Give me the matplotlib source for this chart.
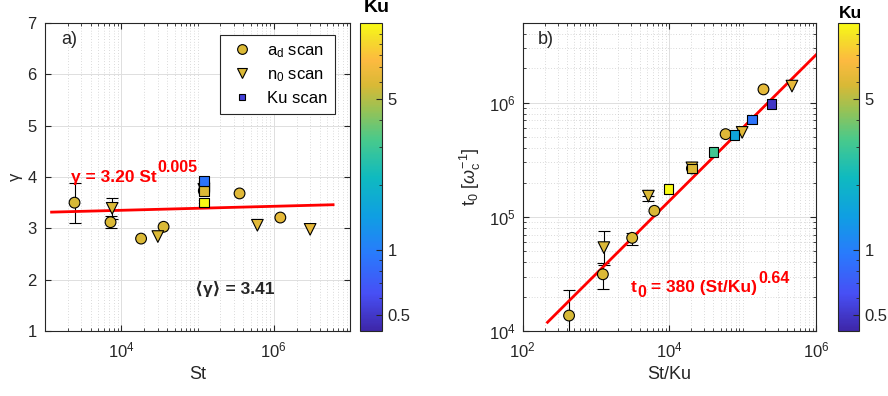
import numpy as np
import matplotlib
matplotlib.use('Agg')
import matplotlib.pyplot as plt
from matplotlib import ticker
from matplotlib.colors import LinearSegmentedColormap, LogNorm
from matplotlib.lines import Line2D

# a_d scan (circles)
ad_St = np.array([2440, 7240, 18200, 35900, 121000, 356000, 1.22e6])
ad_Ku = np.array([5.69, 5.84, 5.85, 5.75, 5.96, 6.08, 6.35])
ad_gamma = np.array([3.50, 3.12, 2.80, 3.03, 3.73, 3.68, 3.21])
ad_gamma_err = np.array([0.39, 0.12, 0, 0, 0, 0, 0])
ad_t0 = np.array([13650, 31400, 65500, 113000, 266000, 531000, 1.31e6])
ad_t0_lo = np.array([9000, 7900, 9000, 0, 0, 0, 0])
ad_t0_hi = np.array([9050, 8100, 6500, 0, 0, 0, 0])

# n_0 scan (triangles)
n0_St = np.array([7600, 30200, 121000, 610000, 3.0e6])
n0_Ku = np.array([5.94, 5.83, 5.96, 6.20, 6.38])
n0_gamma = np.array([3.39, 2.84, 3.76, 3.06, 2.98])
n0_gamma_err = np.array([0.20, 0, 0, 0, 0])
n0_t0 = np.array([53800, 152000, 269000, 550000, 1.4e6])
n0_t0_lo = np.array([15800, 15000, 0, 0, 0])
n0_t0_hi = np.array([21600, 0, 0, 0, 0])

# Ku scan (squares), all at the same St
ku_St = np.array([121000, 121000, 121000, 121000, 121000, 121000])
ku_Ku = np.array([12.4, 0.49, 1.56, 3.04, 5.96, 0.90])
ku_gamma = np.array([3.50, 3.80, 3.83, 3.79, 3.73, 3.92])
ku_t0 = np.array([176000, 975000, 521000, 372000, 266000, 714000])

# fits
gamma_fit_St = np.array([1.22e3, 6.0e6])
t0_fit_x = np.array([218, 1.0e6])

ku_min, ku_max = 0.42, 11.2

plt.rcParams['font.family'] = ['Liberation Sans', 'DejaVu Sans']
plt.rcParams['mathtext.fontset'] = 'custom'
plt.rcParams['mathtext.rm'] = 'Liberation Sans'
plt.rcParams['mathtext.it'] = 'Liberation Sans:italic'
plt.rcParams['mathtext.bf'] = 'Liberation Sans:bold'

# parula-like colormap
parula = LinearSegmentedColormap.from_list('parula', [
    (0.00, (0.242, 0.150, 0.660)),
    (0.12, (0.278, 0.310, 0.960)),
    (0.25, (0.160, 0.480, 0.990)),
    (0.37, (0.060, 0.620, 0.890)),
    (0.50, (0.060, 0.730, 0.750)),
    (0.62, (0.280, 0.790, 0.550)),
    (0.72, (0.600, 0.760, 0.330)),
    (0.80, (0.850, 0.725, 0.210)),
    (0.88, (0.990, 0.730, 0.250)),
    (0.95, (0.960, 0.870, 0.160)),
    (1.00, (0.977, 0.984, 0.081)),
])
norm = LogNorm(vmin=ku_min, vmax=ku_max)

dark = '0.15'


def decade_minors(lo, hi, majors):
    vals = []
    for n in range(lo, hi + 1):
        for k in range(1, 10):
            v = k * 10.0 ** n
            if v not in majors:
                vals.append(v)
    return vals


def style(ax):
    for s in ax.spines.values():
        s.set_color(dark)
        s.set_linewidth(0.8)
    ax.tick_params(which='both', direction='in', top=True, right=True,
                   colors=dark, labelsize=12)
    ax.tick_params(which='major', length=4)
    ax.tick_params(which='minor', length=2)
    ax.grid(True, which='major', color='0.87', lw=0.7, ls='-')
    ax.set_axisbelow(True)


def colorbar(fig, rect):
    cax = fig.add_axes(rect)
    sm = matplotlib.cm.ScalarMappable(norm=norm, cmap=parula)
    cb = fig.colorbar(sm, cax=cax)
    cb.outline.set_edgecolor(dark)
    cb.outline.set_linewidth(0.8)
    cax.yaxis.set_major_locator(ticker.FixedLocator([0.5, 1, 5]))
    cax.yaxis.set_major_formatter(ticker.FuncFormatter(lambda v, p: '%g' % v))
    cax.yaxis.set_minor_locator(ticker.FixedLocator([0.6, 0.7, 0.8, 0.9, 2, 3, 4, 6, 7, 8, 9, 10]))
    cax.yaxis.set_minor_formatter(ticker.NullFormatter())
    cax.tick_params(which='both', direction='in', colors=dark, labelsize=12, pad=4)
    cax.tick_params(which='major', length=4)
    cax.tick_params(which='minor', length=2)
    return cax


def errbars(ax, x, y, lo, hi):
    m = (lo > 0) | (hi > 0)
    ax.errorbar(x[m], y[m], yerr=[lo[m], hi[m]], fmt='none', ecolor='k',
                elinewidth=0.8, capsize=4, capthick=0.8, zorder=2)


def sup(ax, base, s, size, color):
    # superscript placed just after and above an existing text
    return ax.annotate(s, xy=(1, 1), xycoords=base, xytext=(0.5, 1.2),
                       textcoords='offset points', va='center', ha='left',
                       fontsize=size, fontweight='bold', color=color)


fig = plt.figure(figsize=(8.88, 3.96), dpi=100)

# ---------------- a) gamma vs St
ax1 = fig.add_axes([45 / 888, 65 / 396, 305 / 888, 308 / 396])
style(ax1)
ax1.set_xscale('log')
ax1.set_xlim(1e3, 1e7)
ax1.set_ylim(1, 7)
ax1.xaxis.set_major_locator(ticker.FixedLocator([1e4, 1e6]))
ax1.xaxis.set_minor_locator(ticker.FixedLocator(decade_minors(3, 6, [1e4, 1e6])))
ax1.xaxis.set_minor_formatter(ticker.NullFormatter())
ax1.grid(True, which='minor', axis='x', color='0.72', lw=0.5, ls=(0, (1, 3)))
ax1.yaxis.set_major_locator(ticker.MultipleLocator(1))
ax1.tick_params(axis='x', pad=7)
ax1.tick_params(axis='y', pad=6)

errbars(ax1, ad_St, ad_gamma, ad_gamma_err, ad_gamma_err)
errbars(ax1, n0_St, n0_gamma, n0_gamma_err, n0_gamma_err)
ax1.plot(gamma_fit_St, 3.20 * gamma_fit_St ** 0.005, color='red', lw=2, zorder=2.5)
ax1.scatter(ad_St, ad_gamma, c=ad_Ku, cmap=parula, norm=norm, marker='o', s=60,
            edgecolors='k', linewidths=0.8, zorder=3)
ax1.scatter(n0_St, n0_gamma, c=n0_Ku, cmap=parula, norm=norm, marker='v', s=70,
            edgecolors='k', linewidths=0.8, zorder=3)
ax1.scatter(ku_St, ku_gamma, c=ku_Ku, cmap=parula, norm=norm, marker='s', s=48,
            edgecolors='k', linewidths=0.8, zorder=3)

ax1.set_xlabel('St', fontsize=13, color=dark, labelpad=4)
ax1.set_ylabel(r'$\mathregular{\gamma}$', fontsize=12, color=dark, labelpad=2)
ax1.text(0.052, 0.945, 'a)', transform=ax1.transAxes, fontsize=13, color=dark,
         va='center', ha='left')
g_eq = ax1.text(2160, 3.91, 'γ = 3.20 St', color='red', fontsize=12.5,
                fontweight='bold', va='baseline', ha='left')
sup(ax1, g_eq, '0.005', 11.5, 'red')
ax1.text(91600, 1.73, '⟨γ⟩ = 3.41', color=dark, fontsize=12.5, fontweight='bold',
         va='baseline', ha='left')

gold = parula(norm(5.85))
handles = [
    Line2D([], [], ls='none', marker='o', ms=7, mfc=gold, mec='k', mew=0.8),
    Line2D([], [], ls='none', marker='v', ms=7.5, mfc=gold, mec='k', mew=0.8),
    Line2D([], [], ls='none', marker='s', ms=5, mfc=parula(0.08), mec='k', mew=0.8),
]
leg = ax1.legend(handles, [r'a$_{\mathregular{d}}$ scan', r'n$_{\mathregular{0}}$ scan', 'Ku scan'],
                 loc='upper right', bbox_to_anchor=(0.952, 0.96), borderaxespad=0,
                 fontsize=12, fancybox=False, framealpha=1, edgecolor=dark,
                 labelspacing=0.45, handletextpad=0.6, borderpad=0.45, handlelength=1.8)
leg.get_frame().set_linewidth(0.8)

colorbar(fig, [360 / 888, 65 / 396, 22 / 888, 308 / 396])
fig.text(376.5 / 888, 1 - 8 / 396, 'Ku', ha='center', va='center', fontsize=14,
         fontweight='bold', color='k')

# ---------------- b) t0 vs St/Ku
ax2 = fig.add_axes([522.7 / 888, 65 / 396, 293.3 / 888, 308 / 396])
style(ax2)
ax2.set_xscale('log')
ax2.set_yscale('log')
ax2.set_xlim(1e2, 1e6)
ax2.set_ylim(1e4, 5e6)
ax2.xaxis.set_major_locator(ticker.FixedLocator([1e2, 1e4, 1e6]))
ax2.xaxis.set_minor_locator(ticker.FixedLocator(decade_minors(2, 5, [1e2, 1e4, 1e6])))
ax2.xaxis.set_minor_formatter(ticker.NullFormatter())
ax2.yaxis.set_major_locator(ticker.FixedLocator([1e4, 1e5, 1e6]))
ax2.yaxis.set_minor_locator(ticker.FixedLocator(decade_minors(4, 6, [1e4, 1e5, 1e6])))
ax2.yaxis.set_minor_formatter(ticker.NullFormatter())
ax2.grid(True, which='minor', color='0.72', lw=0.5, ls=(0, (1, 3)))
ax2.tick_params(axis='x', pad=7)
ax2.tick_params(axis='y', pad=5)

errbars(ax2, ad_St / ad_Ku, ad_t0, ad_t0_lo, ad_t0_hi)
errbars(ax2, n0_St / n0_Ku, n0_t0, n0_t0_lo, n0_t0_hi)
ax2.plot(t0_fit_x, 380 * t0_fit_x ** 0.64, color='red', lw=2, zorder=2.5)
ax2.scatter(ad_St / ad_Ku, ad_t0, c=ad_Ku, cmap=parula, norm=norm, marker='o', s=60,
            edgecolors='k', linewidths=0.8, zorder=3)
ax2.scatter(n0_St / n0_Ku, n0_t0, c=n0_Ku, cmap=parula, norm=norm, marker='v', s=70,
            edgecolors='k', linewidths=0.8, zorder=3)
ax2.scatter(ku_St / ku_Ku, ku_t0, c=ku_Ku, cmap=parula, norm=norm, marker='s', s=48,
            edgecolors='k', linewidths=0.8, zorder=3)

ax2.set_xlabel('St/Ku', fontsize=13, color=dark, labelpad=4)
ax2.set_ylabel(r't$_{\mathregular{0}}$ [$\omega_{\mathregular{c}}^{\mathregular{-1}}$]',
               fontsize=13, color=dark, labelpad=4)
ax2.text(0.052, 0.945, 'b)', transform=ax2.transAxes, fontsize=13, color=dark,
         va='center', ha='left')
t_eq = ax2.text(3010, 22000, 't', color='red', fontsize=12.5, fontweight='bold',
                va='baseline', ha='left')
t_sub = ax2.annotate('0', xy=(1, 0), xycoords=t_eq, xytext=(0.3, 1.5),
                     textcoords='offset points', va='center', ha='left',
                     fontsize=11.5, fontweight='bold', color='red')
t_rest = ax2.annotate(' = 380 (St/Ku)', xy=(1, 0), xycoords=(t_sub, t_eq), va='bottom',
                      ha='left', fontsize=12.5, fontweight='bold', color='red')
sup(ax2, t_rest, '0.64', 11.5, 'red')

colorbar(fig, [837.5 / 888, 65 / 396, 21.5 / 888, 308 / 396])
fig.text(850 / 888, 1 - 14 / 396, 'Ku', ha='center', va='center', fontsize=12.5,
         fontweight='bold', color='k')

fig.savefig('out.png', dpi=100)
